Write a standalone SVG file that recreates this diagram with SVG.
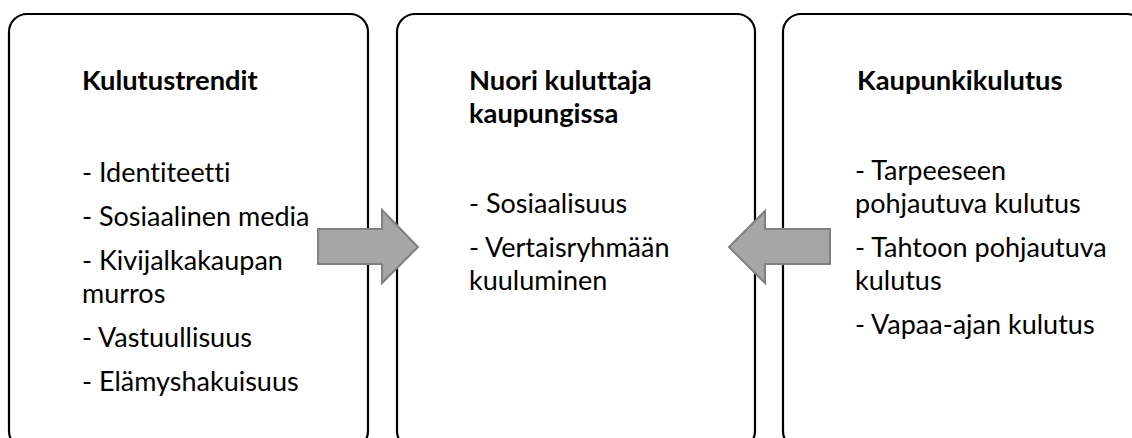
<svg xmlns="http://www.w3.org/2000/svg" width="1132" height="438" viewBox="0 0 1132 438">
<style>
.box{fill:#fff;stroke:#000;stroke-width:2.2}
.t{font-family:Lato,"Liberation Sans",sans-serif;font-size:27px;fill:#000;font-variant-ligatures:none}
.b{font-weight:bold;font-size:27.3px}
.arrow{fill:#a6a6a6;stroke:#808080;stroke-width:2}
</style>
<rect width="1132" height="438" fill="#fff"/>
<g id="node-kulutustrendit">
<rect class="box" x="9" y="14" width="359" height="435" rx="18" ry="18"/>
<text class="t b" x="82" y="90">Kulutustrendit</text>
<text class="t" x="82" y="182">- Identiteetti</text>
<text class="t" x="82" y="226">- Sosiaalinen media</text>
<text class="t" x="82" y="270">- Kivijalkakaupan</text>
<text class="t" x="82" y="303">murros</text>
<text class="t" x="82" y="347">- Vastuullisuus</text>
<text class="t" x="82" y="391">- Elämyshakuisuus</text>
</g>
<g id="node-nuori">
<rect class="box" x="397" y="14" width="358" height="435" rx="18" ry="18"/>
<text class="t b" x="469" y="90">Nuori kuluttaja</text>
<text class="t b" x="469" y="123">kaupungissa</text>
<text class="t" x="469" y="213">- Sosiaalisuus</text>
<text class="t" x="469" y="257">- Vertaisryhmään</text>
<text class="t" x="469" y="290">kuuluminen</text>
</g>
<g id="node-kaupunkikulutus">
<rect class="box" x="783" y="14" width="362" height="435" rx="18" ry="18"/>
<text class="t b" x="857" y="90">Kaupunkikulutus</text>
<text class="t" x="855" y="180">- Tarpeeseen</text>
<text class="t" x="855" y="213">pohjautuva kulutus</text>
<text class="t" x="855" y="257">- Tahtoon pohjautuva</text>
<text class="t" x="855" y="290">kulutus</text>
<text class="t" x="855" y="334">- Vapaa-ajan kulutus</text>
</g>
<g id="connectors">
<polygon class="arrow" points="318,229 382,229 382,210 418,247 382,283 382,264 318,264"/>
<polygon class="arrow" points="830,229 765,229 765,211 729,247 765,283 765,264 830,264"/>
</g>
</svg>
